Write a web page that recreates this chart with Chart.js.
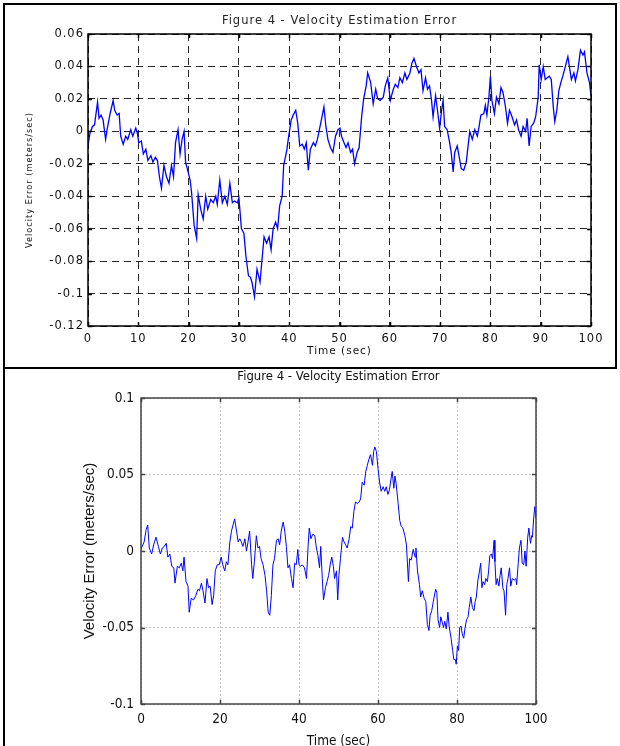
<!DOCTYPE html>
<html>
<head>
<meta charset="utf-8">
<script src="https://cdn.jsdelivr.net/npm/chart.js@4"></script>
<style>
  html, body { margin: 0; padding: 0; overflow: hidden; background: #fff; }
  body { width: 620px; height: 746px; position: relative; }
  .box { position: absolute; }
  #frameTop { left: 3px; top: 3px; width: 610px; height: 362px; border: 2px solid #000; }
  #frameBottom { left: 3px; top: 369px; width: 0; height: 377px; border-left: 2px solid #000; }
  #topWrap { left: 0; top: 0; width: 620px; height: 368px; }
  #bottomWrap { left: 0; top: 369px; width: 620px; height: 400px; }
</style>
</head>
<body>
<div class="box" id="frameTop"></div>
<div class="box" id="frameBottom"></div>
<div class="box" id="topWrap"><canvas id="topChart"></canvas></div>
<div class="box" id="bottomWrap"><canvas id="bottomChart"></canvas></div>

<script>
// upper figure (dashed grid)
const topTime = [0, 0.4, 0.9, 1.3, 1.9, 2.2, 2.6, 3.0, 3.5, 3.8, 4.4, 5.0, 5.3, 5.8, 6.2, 6.5, 7.0, 7.5, 7.9, 8.5, 8.9, 9.5, 9.8,
  10.1, 10.6, 11.0, 11.5, 11.9, 12.5, 12.9, 13.4, 13.8, 14.2, 14.6, 15.1, 15.6, 16.1, 16.6, 17.0, 17.4, 17.9, 18.3, 18.7, 19.1, 19.4, 19.9,
  20.3, 20.6, 21.1, 21.6, 21.9, 22.4, 22.9, 23.4, 23.8, 24.4, 24.9, 25.4, 25.7, 26.2, 26.7, 27.2, 27.7, 28.2, 28.7, 29.1, 29.7,
  30.0, 30.5, 31.0, 31.4, 31.9, 32.3, 32.6, 33.1, 33.6, 34.2, 34.6, 35.0, 35.5, 36.0, 36.4, 36.8, 37.3, 37.7, 38.1, 38.6, 38.9, 39.5, 39.9,
  40.4, 40.8, 41.3, 41.7, 42.1, 42.6, 43.0, 43.4, 43.8, 44.2, 44.8, 45.2, 45.6, 46.0, 46.4, 46.9, 47.3, 47.7, 48.2, 48.7, 49.2, 49.7,
  50.1, 50.4, 50.9, 51.3, 51.7, 52.2, 52.6, 53.0, 53.5, 53.9, 54.4, 54.8, 55.3, 55.6, 56.2, 56.7, 57.2, 57.6, 58.1, 58.7, 59.1, 59.6,
  60.1, 60.7, 61.1, 61.6, 62.0, 62.5, 63.0, 63.4, 64.0, 64.4, 64.8, 65.3, 65.8, 66.2, 66.6, 67.1, 67.5, 67.9, 68.3, 68.6, 69.1, 69.4, 69.9,
  70.3, 70.6, 70.9, 71.4, 71.9, 72.2, 72.6, 72.9, 73.4, 73.7, 74.2, 74.7, 75.2, 75.6, 75.9, 76.4, 76.9, 77.4, 77.7, 78.1, 78.7, 79.0, 79.3, 79.7,
  80.0, 80.3, 80.8, 81.2, 81.7, 82.1, 82.5, 83.0, 83.4, 83.8, 84.3, 84.8, 85.2, 85.6, 86.1, 86.5, 87.0, 87.3, 87.7, 88.1, 88.6, 89.0, 89.5, 89.7,
  90.1, 90.5, 90.9, 91.3, 91.7, 92.1, 92.5, 92.8, 93.2, 93.6, 94.0, 94.4, 94.9, 95.4, 95.7, 96.1, 96.6, 96.9, 97.4, 97.9, 98.4, 98.7, 99.2, 99.7, 100];
const topError = [-0.009, -0.001, 0.003, 0.004, 0.018, 0.008, 0.010, 0.007, -0.005, 0.001, 0.011, 0.019, 0.013, 0.010, 0.011, -0.003, -0.008, -0.003, -0.005, 0.001, -0.003, 0.002, -0.001,
  -0.007, -0.006, -0.014, -0.011, -0.018, -0.015, -0.019, -0.016, -0.018, -0.028, -0.035, -0.021, -0.028, -0.032, -0.021, -0.028, -0.007, 0.001, -0.014, -0.005, 0.000, -0.019, -0.025,
  -0.030, -0.038, -0.058, -0.066, -0.039, -0.048, -0.054, -0.040, -0.048, -0.042, -0.044, -0.040, -0.045, -0.030, -0.044, -0.040, -0.045, -0.032, -0.044, -0.043, -0.044,
  -0.041, -0.060, -0.063, -0.077, -0.089, -0.090, -0.093, -0.102, -0.085, -0.093, -0.079, -0.065, -0.069, -0.065, -0.073, -0.060, -0.056, -0.060, -0.046, -0.040, -0.021, -0.012, -0.003,
  0.007, 0.010, 0.013, 0.005, -0.009, -0.008, -0.011, -0.007, -0.024, -0.011, -0.007, -0.009, -0.005, 0.001, 0.007, 0.015, 0.003, -0.005, -0.010, -0.013, -0.003, 0.001,
  0.002, -0.003, -0.007, -0.010, -0.007, -0.013, -0.011, -0.020, -0.013, -0.010, 0.009, 0.020, 0.028, 0.036, 0.030, 0.017, 0.026, 0.020, 0.019, 0.021, 0.028, 0.033,
  0.019, 0.026, 0.029, 0.027, 0.033, 0.030, 0.036, 0.032, 0.036, 0.042, 0.045, 0.040, 0.036, 0.038, 0.025, 0.033, 0.026, 0.028, 0.019, 0.009, 0.022, 0.015, 0.002,
  0.013, 0.019, 0.003, 0.001, -0.007, -0.013, -0.025, -0.013, -0.009, -0.014, -0.023, -0.024, -0.019, -0.008, 0.000, -0.005, 0.001, -0.003, 0.002, 0.010, 0.011, 0.016, 0.010, 0.021,
  0.034, 0.019, 0.011, 0.021, 0.017, 0.027, 0.024, 0.015, 0.005, 0.013, 0.009, 0.004, 0.007, 0.001, -0.003, 0.003, 0.000, 0.008, -0.009, 0.003, 0.005, 0.009, 0.021, 0.041,
  0.032, 0.040, 0.032, 0.033, 0.034, 0.032, 0.015, 0.006, 0.013, 0.025, 0.030, 0.034, 0.040, 0.046, 0.040, 0.032, 0.036, 0.031, 0.038, 0.050, 0.047, 0.049, 0.036, 0.030, 0.022];
const topXTicks = [0, 10, 20, 30, 40, 50, 60, 70, 80, 90, 100];
const topYTicks = [-0.12, -0.1, -0.08, -0.06, -0.04, -0.02, 0, 0.02, 0.04, 0.06];

// lower figure (dotted grid)
const bottomTime = [0, 0.3, 0.8, 1.3, 1.7, 2.1, 2.7, 3.2, 3.8, 4.4, 4.9, 5.4, 5.9, 6.4, 6.8, 7.3, 7.8, 8.3, 8.6, 9.2, 9.7,
  10.2, 10.6, 10.9, 11.4, 11.9, 12.2, 12.7, 13.3, 13.9, 14.4, 14.8, 15.3, 15.7, 16.2, 16.7, 17.1, 17.5, 18.0, 18.4, 18.8, 19.3, 19.8,
  20.3, 20.7, 21.2, 21.6, 22.0, 22.5, 22.9, 23.3, 23.7, 24.2, 24.6, 25.0, 25.4, 25.8, 26.3, 26.7, 27.1, 27.5, 28.0, 28.3, 28.7, 29.2, 29.6,
  30.0, 30.4, 30.9, 31.4, 31.8, 32.2, 32.6, 33.0, 33.4, 33.8, 34.3, 34.7, 35.1, 35.5, 36.0, 36.4, 36.8, 37.2, 37.6, 38.1, 38.5, 38.9, 39.3, 39.7,
  40.0, 40.4, 40.8, 41.4, 41.9, 42.3, 42.6, 43.0, 43.5, 44.0, 44.4, 44.8, 45.2, 45.5, 45.9, 46.2, 46.7, 47.1, 47.5, 47.9, 48.3, 48.7, 49.0, 49.5, 49.8,
  50.1, 50.5, 51.0, 51.4, 51.8, 52.2, 52.7, 53.1, 53.5, 53.9, 54.3, 54.8, 55.2, 55.6, 56.0, 56.5, 56.9, 57.3, 57.7, 58.1, 58.6, 58.9, 59.2, 59.6,
  60.0, 60.4, 60.8, 61.3, 61.7, 62.1, 62.5, 62.9, 63.4, 63.6, 64.0, 64.3, 64.6, 65.1, 65.5, 65.9, 66.3, 66.8, 67.2, 67.7, 68.0, 68.4, 68.9, 69.4, 69.6,
  70.0, 70.5, 70.8, 71.2, 71.7, 72.1, 72.5, 72.9, 73.2, 73.6, 74.0, 74.6, 74.9, 75.2, 75.6, 75.9, 76.3, 76.6, 76.9, 77.3, 77.7, 78.0, 78.5, 78.9, 79.2, 79.6, 79.8,
  80.1, 80.4, 80.7, 81.0, 81.4, 81.7, 82.0, 82.4, 82.8, 83.1, 83.5, 83.9, 84.3, 84.6, 84.9, 85.3, 85.7, 86.0, 86.3, 86.6, 87.0, 87.3, 87.7, 88.0, 88.3, 88.7, 89.0, 89.4, 89.6, 89.9,
  90.2, 90.6, 90.9, 91.2, 91.6, 91.9, 92.3, 92.6, 92.9, 93.3, 93.6, 94.0, 94.5, 94.9, 95.1, 95.5, 95.8, 96.2, 96.5, 96.9, 97.2, 97.5, 97.9, 98.2, 98.6, 98.9, 99.1, 99.4, 99.7, 100];
const bottomError = [0.001, 0.003, 0.006, 0.014, 0.017, 0.002, -0.002, 0.004, 0.009, 0.003, -0.002, 0.002, 0.003, 0.005, -0.004, -0.002, -0.010, -0.011, -0.021, -0.010, -0.011,
  -0.008, -0.013, -0.004, -0.020, -0.023, -0.040, -0.031, -0.032, -0.029, -0.025, -0.026, -0.021, -0.026, -0.034, -0.018, -0.024, -0.023, -0.035, -0.029, -0.013, -0.009, -0.009,
  -0.004, -0.009, -0.013, -0.007, -0.009, 0.006, 0.013, 0.017, 0.021, 0.013, 0.006, 0.008, 0.006, 0.003, 0.008, 0.000, 0.006, 0.013, -0.009, -0.018, -0.007, 0.010, 0.002,
  0.003, -0.005, -0.009, -0.016, -0.026, -0.040, -0.042, -0.029, -0.009, -0.005, 0.007, 0.008, 0.004, 0.013, 0.019, 0.013, 0.003, -0.011, -0.009, -0.018, -0.024, -0.008, -0.009, 0.001,
  -0.009, -0.010, -0.009, -0.011, -0.018, 0.003, 0.015, 0.008, 0.011, 0.010, 0.002, -0.003, -0.011, 0.003, -0.018, -0.032, -0.024, -0.020, -0.016, -0.009, -0.004, -0.010, -0.018, -0.013, -0.032,
  -0.016, -0.005, 0.009, 0.006, 0.004, 0.002, 0.008, 0.016, 0.015, 0.026, 0.032, 0.031, 0.032, 0.034, 0.045, 0.043, 0.052, 0.056, 0.060, 0.063, 0.056, 0.065, 0.068, 0.065,
  0.054, 0.045, 0.039, 0.042, 0.039, 0.042, 0.037, 0.040, 0.049, 0.052, 0.041, 0.049, 0.044, 0.031, 0.020, 0.016, 0.015, 0.010, 0.004, -0.020, -0.005, -0.006, 0.001, -0.004, 0.002,
  -0.013, -0.022, -0.030, -0.026, -0.031, -0.033, -0.048, -0.052, -0.042, -0.039, -0.033, -0.025, -0.027, -0.045, -0.050, -0.043, -0.047, -0.050, -0.046, -0.051, -0.040, -0.049, -0.057, -0.065, -0.071, -0.071, -0.074,
  -0.062, -0.065, -0.050, -0.049, -0.055, -0.057, -0.051, -0.045, -0.043, -0.037, -0.030, -0.037, -0.039, -0.033, -0.030, -0.019, -0.013, -0.008, -0.024, -0.020, -0.022, -0.018, -0.020, -0.013, -0.003, -0.002, -0.005, 0.007, -0.007, -0.022,
  -0.018, -0.023, -0.016, -0.011, -0.024, -0.026, -0.042, -0.022, -0.018, -0.011, -0.023, -0.018, -0.019, -0.018, -0.022, -0.008, 0.002, 0.007, -0.008, -0.009, 0.000, -0.010, 0.009, 0.015, 0.005, 0.010, 0.009, 0.021, 0.029, 0.021];
const bottomXTicks = [0, 20, 40, 60, 80, 100];
const bottomYTicks = [-0.1, -0.05, 0, 0.05, 0.1];

const titleText = 'Figure 4 - Velocity Estimation Error';
const xTitle = 'Time (sec)';
const yTitle = 'Velocity Error (meters/sec)';

// draws the closed axes box and inward tick marks, matlab style
const framePlugin = {
  id: 'frame',
  beforeDraw(chart, args, opts) {
    // the old matlab export has widely tracked text
    chart.ctx.letterSpacing = opts.spacing || '0px';
  },
  afterDatasetsDraw(chart, args, opts) {
    const ctx = chart.ctx;
    const a = chart.chartArea;
    const xs = chart.scales.x, ys = chart.scales.y;
    ctx.save();
    ctx.setLineDash([]);
    ctx.strokeStyle = opts.color;
    ctx.lineWidth = opts.width;
    ctx.beginPath();
    xs.ticks.forEach(t => {
      const px = Math.round(xs.getPixelForValue(t.value)) + 0.5;
      ctx.moveTo(px, a.bottom); ctx.lineTo(px, a.bottom - opts.tick);
      ctx.moveTo(px, a.top); ctx.lineTo(px, a.top + opts.tick);
    });
    ys.ticks.forEach(t => {
      const py = Math.round(ys.getPixelForValue(t.value)) + 0.5;
      ctx.moveTo(a.left, py); ctx.lineTo(a.left + opts.tick, py);
      ctx.moveTo(a.right, py); ctx.lineTo(a.right - opts.tick, py);
    });
    ctx.stroke();
    ctx.strokeRect(a.left, a.top, a.right - a.left, a.bottom - a.top);
    ctx.restore();
  }
};

function toPoints(xs, ys) {
  return xs.map((t, i) => ({x: t, y: ys[i]}));
}

// upper chart
const topFont = "'DejaVu Sans', sans-serif";
new Chart(document.getElementById('topChart'), {
  type: 'line',
  data: {
    datasets: [{
      data: toPoints(topTime, topError),
      borderColor: 'rgb(0, 0, 255)',
      borderWidth: 1.3,
      pointRadius: 0,
      tension: 0
    }]
  },
  options: {
    responsive: true,
    maintainAspectRatio: false,
    animation: false,
    layout: { padding: { left: 0, right: 29, top: 0, bottom: 0 } },
    plugins: {
      legend: { display: false },
      tooltip: { enabled: false },
      title: {
        display: true,
        fullSize: false,
        text: titleText,
        color: '#222',
        font: { family: topFont, size: 11.5, weight: 'normal' },
        padding: { top: 14.5, bottom: 5.7 }
      },
      frame: { color: '#000', width: 1.5, tick: 4, spacing: '1px' }
    },
    scales: {
      x: {
        type: 'linear',
        min: 0,
        max: 100,
        afterFit(scale) { scale.height = 42; },
        afterBuildTicks(scale) { scale.ticks = topXTicks.map(v => ({value: v})); },
        ticks: { color: '#111', font: { family: topFont, size: 11.5 }, padding: 6, maxRotation: 0, autoSkip: false },
        grid: { color: 'rgba(0,0,0,0.85)', lineWidth: 1, drawTicks: false },
        border: { display: false, dash: [7, 5] },
        title: { display: true, text: xTitle, color: '#111', font: { family: topFont, size: 10.5 }, padding: { top: 0, bottom: 10.7 } }
      },
      y: {
        min: -0.12,
        max: 0.06,
        afterFit(scale) { scale.width = 88; },
        afterBuildTicks(scale) { scale.ticks = topYTicks.map(v => ({value: v})); },
        ticks: { color: '#111', font: { family: topFont, size: 11.5 }, padding: 4, callback: v => String(v) },
        grid: { color: 'rgba(0,0,0,0.85)', lineWidth: 1, drawTicks: false },
        border: { display: false, dash: [7, 5] },
        title: { display: true, text: yTitle, color: '#111', font: { family: topFont, size: 8.2 }, padding: { top: 25, bottom: 0 } }
      }
    }
  },
  plugins: [framePlugin]
});

// lower chart
const narrowFont = "'DejaVu Sans Condensed', 'Liberation Sans Narrow', sans-serif";
new Chart(document.getElementById('bottomChart'), {
  type: 'line',
  data: {
    datasets: [{
      data: toPoints(bottomTime, bottomError),
      borderColor: 'rgb(0, 0, 255)',
      borderWidth: 1,
      pointRadius: 0,
      tension: 0
    }]
  },
  options: {
    responsive: true,
    maintainAspectRatio: false,
    animation: false,
    layout: { padding: { left: 0, right: 84, top: 0, bottom: 0 } },
    plugins: {
      legend: { display: false },
      tooltip: { enabled: false },
      title: {
        display: true,
        fullSize: false,
        text: titleText,
        color: '#111',
        font: { family: narrowFont, size: 13, weight: 'normal', lineHeight: 1 },
        padding: { top: 1.5, bottom: 14.5 }
      },
      frame: { color: '#444', width: 1.5, tick: 4 }
    },
    scales: {
      x: {
        type: 'linear',
        min: 0,
        max: 100,
        afterFit(scale) { scale.height = 65; },
        afterBuildTicks(scale) { scale.ticks = bottomXTicks.map(v => ({value: v})); },
        ticks: { color: '#111', font: { family: narrowFont, size: 13.5 }, padding: 7, maxRotation: 0, autoSkip: false },
        grid: { color: '#c4c4c4', lineWidth: 1, drawTicks: false },
        border: { display: false, dash: [2, 2] },
        title: { display: true, text: xTitle, color: '#111', font: { family: narrowFont, size: 13.5 }, padding: { top: 0, bottom: 19 } }
      },
      y: {
        min: -0.1,
        max: 0.1,
        afterFit(scale) { scale.width = 141; },
        afterBuildTicks(scale) { scale.ticks = bottomYTicks.map(v => ({value: v})); },
        ticks: { color: '#111', font: { family: narrowFont, size: 13.5 }, padding: 7, callback: v => String(v) },
        grid: { color: '#c4c4c4', lineWidth: 1, drawTicks: false },
        border: { display: false, dash: [2, 2] },
        title: { display: true, text: yTitle, color: '#111', font: { family: "'Liberation Sans', Arial, sans-serif", size: 15 }, padding: { top: 81, bottom: 0 } }
      }
    }
  },
  plugins: [framePlugin]
});
</script>
</body>
</html>
